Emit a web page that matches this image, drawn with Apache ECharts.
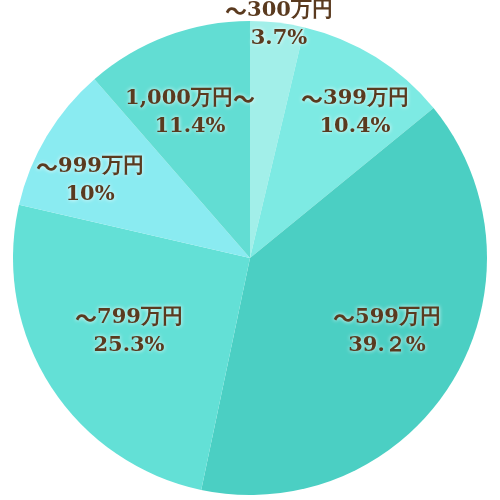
<!DOCTYPE html>
<html><head><meta charset="utf-8">
<script src="https://cdn.jsdelivr.net/npm/echarts@6/dist/echarts.min.js"></script>
<style>html,body{margin:0;padding:0;background:#fff}#c{width:500px;height:500px}</style>
</head><body><div id="c"></div>
<script>
var categories = ["～300万円", "～399万円", "～599万円", "～799万円", "～999万円", "1,000万円～"];
var values = [3.7, 10.4, 39.2, 25.3, 10, 11.4];
var percentLabels = ["3.7%", "10.4%", "39.２%", "25.3%", "10%", "11.4%"];
var colors = ["#a2efe9", "#7deae3", "#4bcfc3", "#63e0d6", "#8aebf1", "#62ddd3"];
var labelCenters = [[279, 25], [355, 113], [387, 332], [129, 332], [90, 181], [190, 113]];

var baseText = {
  fontFamily: '"DejaVu Serif", serif',
  fontWeight: 'bold',
  fontSize: 21,
  lineHeight: 28,
  color: '#5a3a1f',
  textShadowColor: '#ffffff',
  textShadowBlur: 4
};
function richStyle(extra) {
  var o = {};
  for (var k in baseText) o[k] = baseText[k];
  for (var k2 in extra) o[k2] = extra[k2];
  return o;
}

var chart = echarts.init(document.getElementById('c'), null, {renderer: 'canvas'});
chart.setOption({
  animation: false,
  series: [{
    type: 'pie',
    center: [250, 258],
    radius: [0, 237],
    startAngle: 90,
    clockwise: true,
    data: categories.map(function (c, i) {
      return {name: c, value: values[i], itemStyle: {color: colors[i]}};
    }),
    itemStyle: {borderWidth: 0},
    emphasis: {disabled: true},
    label: {
      show: true,
      position: 'inside',
      formatter: function (p) {
        var n = p.name.split('～').join('}{t|～}{n|');
        return '{n|' + n + '}\n{n|' + percentLabels[p.dataIndex] + '}';
      },
      fontFamily: baseText.fontFamily,
      fontWeight: 'bold',
      fontSize: 21,
      lineHeight: 28,
      color: '#5a3a1f',
      align: 'center',
      rich: {
        n: richStyle({}),
        t: richStyle({fontFamily: '"Noto Sans CJK JP", sans-serif', fontSize: 22})
      }
    },
    labelLine: {show: false},
    labelLayout: function (p) {
      var c = labelCenters[p.dataIndex];
      return {x: c[0], y: c[1], align: 'center', verticalAlign: 'middle'};
    }
  }]
});
</script></body></html>
